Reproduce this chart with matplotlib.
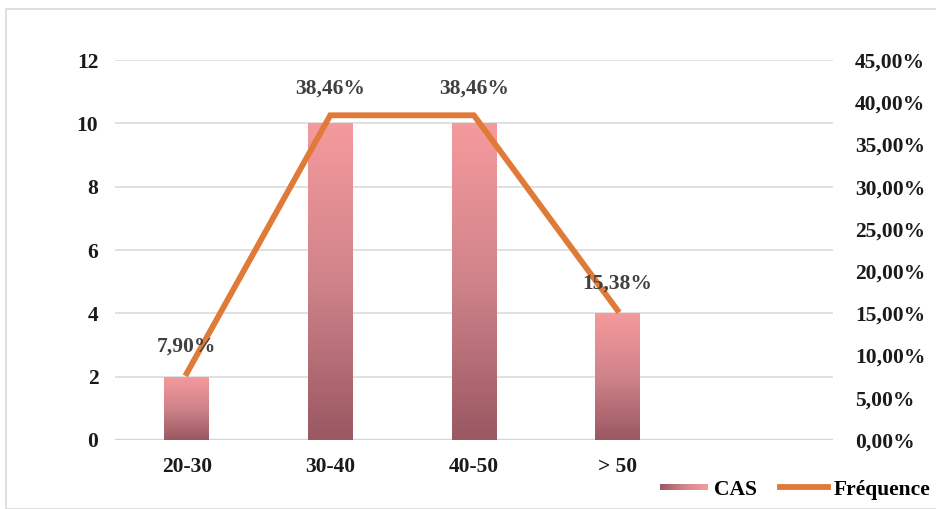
import numpy as np
import matplotlib.pyplot as plt
from matplotlib.colors import LinearSegmentedColormap
from matplotlib.patches import Rectangle
from matplotlib.lines import Line2D
from matplotlib.legend_handler import HandlerBase

# age groups, number of cases and frequency
groupes = ['20-30', '30-40', '40-50', '> 50', '']
cas = [2, 10, 10, 4]
frequence = [7.90, 38.46, 38.46, 15.38]

left_ticks = [0, 2, 4, 6, 8, 10, 12]
right_ticks = [0, 5, 10, 15, 20, 25, 30, 35, 40, 45]

plt.rcParams['font.family'] = ['Liberation Serif', 'DejaVu Serif']
plt.rcParams['font.weight'] = 'bold'

bar_cmap = LinearSegmentedColormap.from_list('cas', ['#9a5862', '#d0838a', '#f59a9d'])
orange = '#e07a38'
txt = '#1a1a1a'
fs = 15.5

fig = plt.figure(figsize=(9.37, 5.09), dpi=100)
fig.patches.append(Rectangle((0.006, 0.0), 0.994, 0.983, transform=fig.transFigure,
                             fill=False, edgecolor='#d9d9d9', linewidth=1.2))

ax = fig.add_axes([0.1227, 0.1356, 0.766, 0.7464])
x = np.arange(len(groupes))
bars = ax.bar(x[:len(cas)], cas, width=0.31, color='none', zorder=2)

# vertical gradient inside each bar
grad = np.linspace(0, 1, 256).reshape(-1, 1)
for b in bars:
    x0, h, w = b.get_x(), b.get_height(), b.get_width()
    im = ax.imshow(grad, cmap=bar_cmap, aspect='auto', origin='lower',
                   extent=[x0, x0 + w, 0, h], zorder=2)
    im.set_clip_path(b)

ax.set_xlim(-0.5, len(groupes) - 0.5)
ax.set_ylim(0, 12)
ax.set_yticks(left_ticks)
ax.set_xticks(x[:len(cas)])
ax.set_xticklabels(groupes[:len(cas)])
ax.grid(axis='y', color='#d9d9d9', linewidth=1.1, zorder=0)
ax.axhline(0, color='#c8c8c8', linewidth=1.6, zorder=1)
for s in ax.spines.values():
    s.set_visible(False)
ax.tick_params(length=0, labelsize=fs, labelcolor=txt, pad=12)
ax.tick_params(axis='y', pad=12)

ax2 = ax.twinx()
ax2.plot(x[:len(cas)], [f / 100 for f in frequence], color=orange, linewidth=4.2,
         solid_joinstyle='miter', zorder=3)
ax2.set_ylim(0, 0.45)
ax2.set_yticks([t / 100 for t in right_ticks])
ax2.set_yticklabels([('%.2f%%' % t).replace('.', ',') for t in right_ticks])
for s in ax2.spines.values():
    s.set_visible(False)
ax2.tick_params(length=0, labelsize=fs, labelcolor=txt, pad=16)

for xi, f in zip(x, frequence):
    ax2.annotate(('%.2f%%' % f).replace('.', ','), (xi, f / 100), xytext=(0, 12),
                 textcoords='offset points', ha='center', va='bottom',
                 fontsize=fs, color='#404040')


class GradientHandler(HandlerBase):
    def create_artists(self, legend, orig_handle, xdescent, ydescent,
                       width, height, fontsize, trans):
        n = 30
        parts = []
        for i in range(n):
            r = Rectangle((-xdescent + width * i / n, -ydescent + height * 0.3),
                          width / n + 0.3, height * 0.4,
                          facecolor=bar_cmap(i / (n - 1)), edgecolor='none',
                          transform=trans)
            parts.append(r)
        return parts


cas_handle = Rectangle((0, 0), 1, 1)
freq_handle = Line2D([], [], color=orange, linewidth=4.2)
fig.legend([cas_handle, freq_handle], ['CAS', 'Fréquence'],
           handler_map={Rectangle: GradientHandler()},
           loc='lower right', bbox_to_anchor=(1.014, -0.02), ncol=2,
           frameon=False, fontsize=fs, handlelength=2.2, handletextpad=0.3,
           columnspacing=1.1)

fig.savefig('out.png', dpi=100)
